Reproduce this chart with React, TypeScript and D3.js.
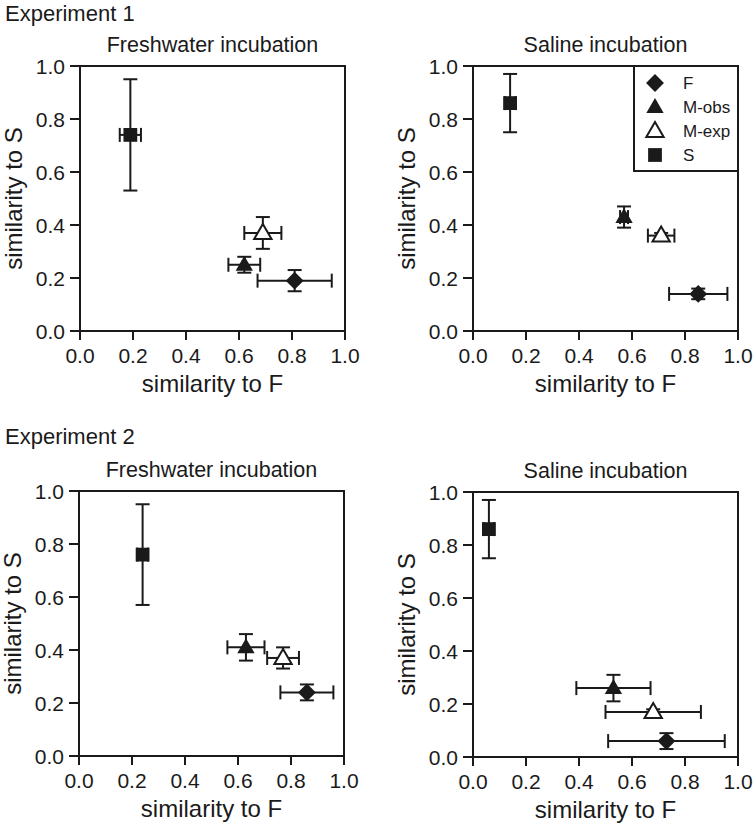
import React from "react";
import * as d3 from "d3";

const series = ["F", "M-obs", "M-exp", "S"];
const ticks = [0, 0.2, 0.4, 0.6, 0.8, 1.0];

// Experiment 1, freshwater incubation
const e1FreshX = [0.81, 0.62, 0.69, 0.19];
const e1FreshXErr = [0.14, 0.06, 0.07, 0.04];
const e1FreshY = [0.19, 0.25, 0.37, 0.74];
const e1FreshYErr = [0.04, 0.03, 0.06, 0.21];

// Experiment 1, saline incubation
const e1SalineX = [0.85, 0.57, 0.71, 0.14];
const e1SalineXErr = [0.11, 0.015, 0.05, 0.02];
const e1SalineY = [0.14, 0.43, 0.36, 0.86];
const e1SalineYErr = [0.02, 0.04, 0.01, 0.11];

// Experiment 2, freshwater incubation
const e2FreshX = [0.86, 0.63, 0.77, 0.24];
const e2FreshXErr = [0.10, 0.07, 0.06, 0.02];
const e2FreshY = [0.24, 0.41, 0.37, 0.76];
const e2FreshYErr = [0.03, 0.05, 0.04, 0.19];

// Experiment 2, saline incubation
const e2SalineX = [0.73, 0.53, 0.68, 0.06];
const e2SalineXErr = [0.22, 0.14, 0.18, 0.02];
const e2SalineY = [0.06, 0.26, 0.17, 0.86];
const e2SalineYErr = [0.03, 0.05, 0.01, 0.11];

const font = "'Liberation Sans', Arial, sans-serif";
const ink = "#1a1a1a";

function Marker({ kind, x, y }: { kind: string; x: number; y: number }) {
  if (kind === "F") {
    const p = d3.symbol().type(d3.symbolSquare).size(160)();
    return <path d={p || ""} transform={`translate(${x},${y}) rotate(45)`} fill={ink} />;
  }
  if (kind === "S") {
    const p = d3.symbol().type(d3.symbolSquare).size(190)();
    return <path d={p || ""} transform={`translate(${x},${y})`} fill={ink} />;
  }
  const p = d3.symbol().type(d3.symbolTriangle).size(130)();
  const open = kind === "M-exp";
  return (
    <path
      d={p || ""}
      transform={`translate(${x},${y + 1})`}
      fill={open ? "#fff" : ink}
      stroke={ink}
      strokeWidth={open ? 2 : 0}
    />
  );
}

function Panel(props: {
  left: number; top: number; title: string;
  xs: number[]; xe: number[]; ys: number[]; ye: number[]; legend?: boolean;
}) {
  const { left, top, title, xs, xe, ys, ye, legend } = props;
  const size = 265;
  const x = d3.scaleLinear().domain([0, 1]).range([0, size]);
  const y = d3.scaleLinear().domain([0, 1]).range([size, 0]);
  const cap = 7;
  return (
    <g transform={`translate(${left},${top})`} fontFamily={font} fill={ink}>
      <text x={size / 2} y={-14} textAnchor="middle" fontSize={21.5}>{title}</text>
      <rect x={0} y={0} width={size} height={size} fill="none" stroke={ink} strokeWidth={2} />
      {ticks.map((t) => (
        <g key={"x" + t}>
          <line x1={x(t)} x2={x(t)} y1={size} y2={size + 9} stroke={ink} strokeWidth={2} />
          <text x={x(t)} y={size + 32} textAnchor="middle" fontSize={21}>{t.toFixed(1)}</text>
        </g>
      ))}
      {ticks.map((t) => (
        <g key={"y" + t}>
          <line x1={-10} x2={0} y1={y(t)} y2={y(t)} stroke={ink} strokeWidth={2} />
          <text x={-15} y={y(t) + 7.5} textAnchor="end" fontSize={21}>{t.toFixed(1)}</text>
        </g>
      ))}
      <text x={size / 2} y={size + 61} textAnchor="middle" fontSize={24}>similarity to F</text>
      <text transform={`translate(-58,${size / 2}) rotate(-90)`} textAnchor="middle" fontSize={24}>similarity to S</text>
      {series.map((s, i) => {
        const cx = x(xs[i]);
        const cy = y(ys[i]);
        const x0 = x(xs[i] - xe[i]);
        const x1 = x(xs[i] + xe[i]);
        const y0 = y(ys[i] - ye[i]);
        const y1 = y(ys[i] + ye[i]);
        return (
          <g key={s} stroke={ink} strokeWidth={2} fill="none">
            <line x1={x0} x2={x1} y1={cy} y2={cy} />
            <line x1={x0} x2={x0} y1={cy - cap} y2={cy + cap} />
            <line x1={x1} x2={x1} y1={cy - cap} y2={cy + cap} />
            <line x1={cx} x2={cx} y1={y0} y2={y1} />
            <line x1={cx - cap} x2={cx + cap} y1={y0} y2={y0} />
            <line x1={cx - cap} x2={cx + cap} y1={y1} y2={y1} />
          </g>
        );
      })}
      {series.map((s, i) => (
        <Marker key={"m" + s} kind={s} x={x(xs[i])} y={y(ys[i])} />
      ))}
      {legend && (
        <g transform={`translate(${size - 104},0)`}>
          <rect x={0} y={0} width={104} height={105} fill="#fff" stroke={ink} strokeWidth={2} />
          {series.map((s, i) => (
            <g key={"l" + s}>
              <Marker kind={s} x={21} y={17 + i * 24} />
              <text x={49} y={17 + i * 24 + 6} fontSize={17}>{s}</text>
            </g>
          ))}
        </g>
      )}
    </g>
  );
}

export default function App() {
  return (
    <svg
      width={754}
      height={832}
      style={{ position: "absolute", left: 0, top: 0, background: "#fff" }}
    >
      <rect width={754} height={832} fill="#fff" />
      <text x={5} y={21} fontFamily={font} fontSize={22} fill={ink}>Experiment 1</text>
      <text x={5} y={444} fontFamily={font} fontSize={22} fill={ink}>Experiment 2</text>
      <Panel left={80} top={66} title="Freshwater incubation" xs={e1FreshX} xe={e1FreshXErr} ys={e1FreshY} ye={e1FreshYErr} />
      <Panel left={473} top={66} title="Saline incubation" xs={e1SalineX} xe={e1SalineXErr} ys={e1SalineY} ye={e1SalineYErr} legend />
      <Panel left={79} top={491} title="Freshwater incubation" xs={e2FreshX} xe={e2FreshXErr} ys={e2FreshY} ye={e2FreshYErr} />
      <Panel left={473} top={492} title="Saline incubation" xs={e2SalineX} xe={e2SalineXErr} ys={e2SalineY} ye={e2SalineYErr} />
    </svg>
  );
}
